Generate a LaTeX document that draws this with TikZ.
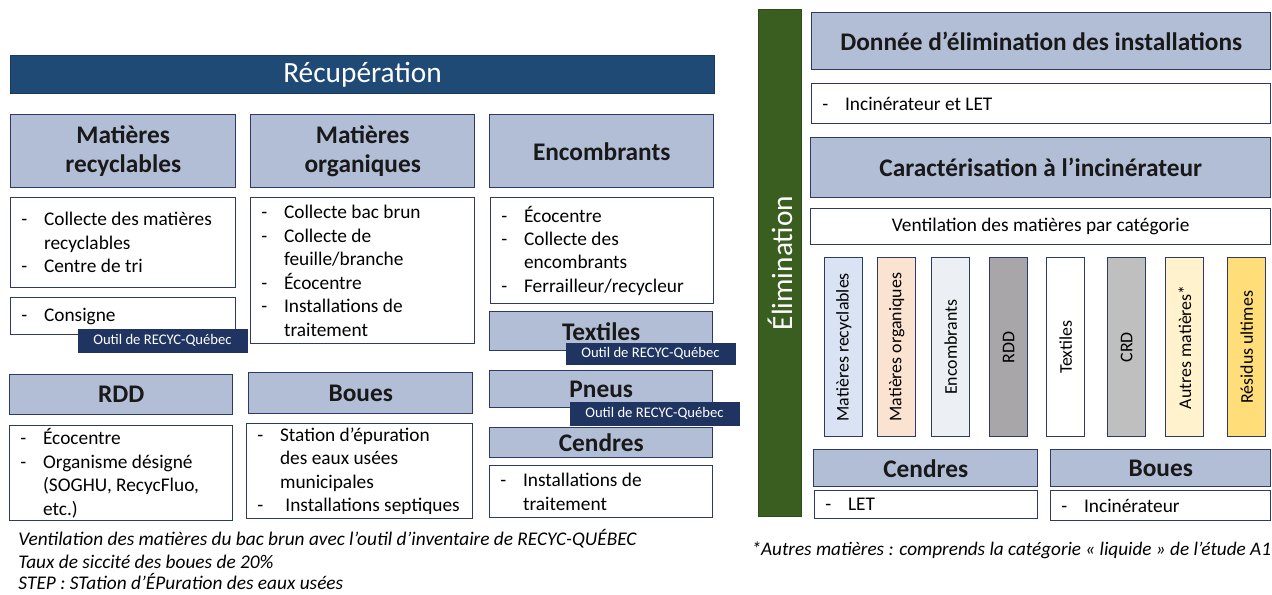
\documentclass[tikz,border=0pt]{standalone}
\usepackage{fontspec}
\setmainfont{Carlito}

\definecolor{bordure}{RGB}{46,58,102}
\definecolor{grisbleu}{RGB}{178,190,214}
\definecolor{bleurecup}{RGB}{31,74,118}
\definecolor{marine}{RGB}{31,52,96}
\definecolor{vertelim}{RGB}{58,94,32}
\definecolor{cbleu}{RGB}{218,227,243}
\definecolor{cpeche}{RGB}{251,227,210}
\definecolor{cblanc}{RGB}{236,239,243}
\definecolor{cgris}{RGB}{168,166,168}
\definecolor{cgrisclair}{RGB}{191,191,191}
\definecolor{cjaunepale}{RGB}{255,242,204}
\definecolor{cjaune}{RGB}{255,222,122}

% bullet line with hanging indent
\newcommand{\puce}[1]{\par\hangindent=17pt\hangafter=1\noindent\makebox[17pt][l]{-}#1}
% text block of a list box (\\ stays inside the item)
\newcommand{\cadre}[2]{\parbox{#1}{\raggedright\hyphenpenalty=10000\exhyphenpenalty=10000\let\\\newline #2}}

\tikzset{every picture/.style={line width=0.75pt}}
\tikzset{
  taille/.style 2 args={minimum width=#1*0.75pt, minimum height=#2*0.75pt},
  entete/.style={draw=bordure, fill=grisbleu, line width=1.1pt, anchor=north west, inner sep=0pt,
    align=center, text=black!90, font=\fontsize{19}{22}\selectfont\bfseries},
  liste/.style={draw=bordure, fill=white, line width=1.1pt, anchor=north west, inner xsep=8pt, inner ysep=0pt,
    font=\fontsize{14.5}{17.6}\selectfont},
  outil/.style={fill=marine, text=white, anchor=north west, inner sep=0pt, font=\fontsize{11}{12}\selectfont},
  barre/.style={draw=bordure, line width=1.1pt, anchor=north west, inner sep=0pt},
  barretexte/.style={rotate=90, font=\fontsize{13.4}{15}\selectfont},
  note/.style={anchor=base west, inner sep=0pt, font=\fontsize{14.5}{17}\selectfont\itshape},
}

\begin{document}
\begin{tikzpicture}[x=0.75pt,y=0.75pt,yscale=-1,xscale=1]
	\useasboundingbox (0,0) rectangle (1272,594);

	%Récupération
	\node[fill=bleurecup, draw=bleurecup!80!black, anchor=north west, inner sep=0pt, taille={704}{38},
	  text=white, font=\fontsize{22}{24}\selectfont] (recup) at (10,55) {Récupération};

	% Headers
	\node[entete, taille={225}{73}] (hdrMR) at (10,114) {Matières\\recyclables};
	\node[entete, taille={224}{73}] (hdrMO) at (250,114) {Matières\\organiques};
	\node[entete, taille={224}{73}] (hdrENC) at (489,114) {Encombrants};
	\node[entete, taille={223}{39}] (hdrTEX) at (489,311) {Textiles};
	\node[entete, taille={223}{37}] (hdrPNE) at (489,370) {Pneus};
	\node[entete, taille={223}{30}] (hdrCEN) at (489,427) {Cendres};
	\node[entete, taille={223}{40}] (hdrRDD) at (9,374) {RDD};
	\node[entete, taille={224}{41}] (hdrBOU) at (248,372) {Boues};

	% Lists
	\node[liste, taille={225}{90}] (lstMR) at (10,197)
	  {\cadre{152.75pt}{\puce{Collecte des matières\\recyclables}\puce{Centre de tri}}};
	\node[liste, taille={224}{146}] (lstMO) at (250,197)
	  {\cadre{152pt}{\puce{Collecte bac brun}\puce{Collecte de\\feuille/branche}\puce{Écocentre}\puce{Installations de\\traitement}}};
	\node[liste, taille={223}{106}] (lstENC) at (490,197)
	  {\cadre{151.25pt}{\puce{Écocentre}\puce{Collecte des\\encombrants}\puce{Ferrailleur/recycleur}}};
	\node[liste, taille={225}{37}] (lstCON) at (10,297) {\cadre{152.75pt}{\puce{Consigne}}};
	\node[liste, taille={223}{52}] (lstCEN) at (489,465)
	  {\cadre{151.25pt}{\puce{Installations de\\traitement}}};
	\node[liste, taille={223}{95}] (lstRDD) at (9,425)
	  {\cadre{151.25pt}{\puce{Écocentre}\puce{Organisme désigné\\(SOGHU, RecycFluo,\\etc.)}}};
	\node[liste, taille={226}{95}] (lstBOU) at (246,423)
	  {\cadre{153.5pt}{\puce{Station d’épuration\\des eaux usées\\municipales}\puce{\hspace{4pt}Installations septiques}}};

	% Outil de RECYC-Québec
	\node[outil, taille={170}{24}] (outMR) at (77,328) {Outil de RECYC-Québec};
	\node[outil, taille={170}{22}] (outTEX) at (565,342) {Outil de RECYC-Québec};
	\node[outil, taille={170}{24}] (outPNE) at (569,401) {Outil de RECYC-Québec};

	% Notes
	\node[note] (note1) at (18,545) {Ventilation des matières du bac brun avec l’outil d’inventaire de RECYC-QUÉBEC};
	\node[note] (note2) at (18,568) {Taux de siccité des boues de 20\%};
	\node[note] (note3) at (18,589) {STEP : STation d’ÉPuration des eaux usées};

	%Élimination
	\node[fill=vertelim, draw=vertelim!80!black, anchor=north west, inner sep=0pt, taille={43}{507}] (elim) at (758,9) {};
	\node[rotate=90, text=white, font=\fontsize{22}{24}\selectfont] (elimtxt) at (elim.center) {Élimination};

	\node[entete, taille={459}{57}] (hdrDON) at (811,12) {Donnée d’élimination des installations};
	\node[liste, taille={459}{40}] (lstINC) at (811,83) {\cadre{328.25pt}{\puce{Incinérateur et LET}}};
	\node[entete, taille={460}{60}] (hdrCAR) at (810,137) {Caractérisation à l’incinérateur};
	\node[liste, taille={460}{36}, align=center] (lstVEN) at (810,208) {Ventilation des matières par catégorie};

	% Catégories
	\node[barre, fill=cbleu, taille={38}{179}] (bar1) at (824,257) {};
	\node[barre, fill=cpeche, taille={38}{179}] (bar2) at (877,257) {};
	\node[barre, fill=cblanc, taille={38}{179}] (bar3) at (931,257) {};
	\node[barre, fill=cgris, taille={38}{179}] (bar4) at (989,257) {};
	\node[barre, fill=white, taille={38}{179}] (bar5) at (1046,257) {};
	\node[barre, fill=cgrisclair, taille={38}{179}] (bar6) at (1107,257) {};
	\node[barre, fill=cjaunepale, taille={38}{179}] (bar7) at (1165,257) {};
	\node[barre, fill=cjaune, taille={38}{179}] (bar8) at (1227,257) {};
	\node[barretexte] (txt1) at (bar1.center) {Matières recyclables};
	\node[barretexte] (txt2) at (bar2.center) {Matières organiques};
	\node[barretexte] (txt3) at (bar3.center) {Encombrants};
	\node[barretexte] (txt4) at (bar4.center) {RDD};
	\node[barretexte] (txt5) at (bar5.center) {Textiles};
	\node[barretexte] (txt6) at (bar6.center) {CRD};
	\node[barretexte] (txt7) at (bar7.center) {Autres matières*};
	\node[barretexte] (txt8) at (bar8.center) {Résidus ultimes};

	\node[entete, taille={224}{37}] (hdrCEN2) at (813,449) {Cendres};
	\node[entete, taille={220}{37}] (hdrBOU2) at (1050,449) {Boues};
	\node[liste, taille={223}{28}] (lstLET) at (814,490) {\cadre{151.25pt}{\puce{LET}}};
	\node[liste, taille={220}{30}] (lstINC2) at (1050,490) {\cadre{149pt}{\puce{Incinérateur}}};

	\node[note, font=\fontsize{14.4}{17}\selectfont\itshape] (note4) at (751,555) {*Autres matières : comprends la catégorie « liquide » de l’étude A1};

\end{tikzpicture}
\end{document}
